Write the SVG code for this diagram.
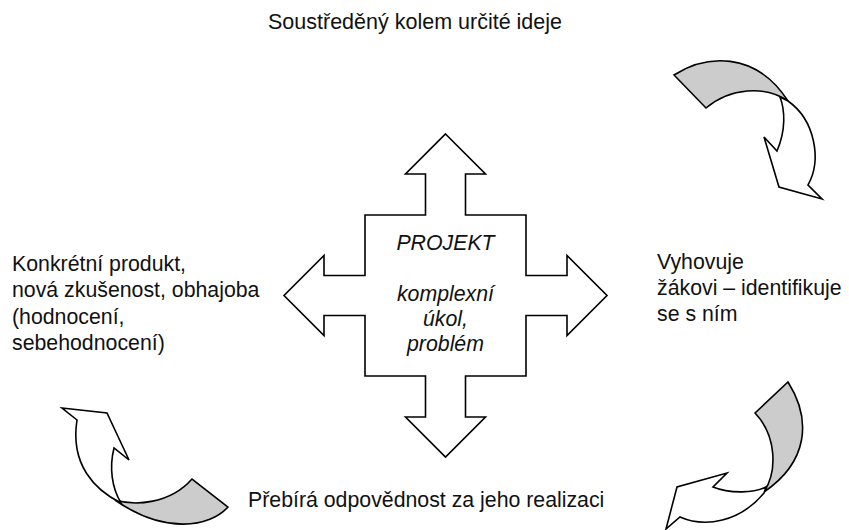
<svg xmlns="http://www.w3.org/2000/svg" width="849" height="530" viewBox="0 0 849 530">
<style>
text{font-family:"Liberation Sans",Arial,sans-serif;font-size:21.3px;fill:#111}
.c{text-anchor:middle;font-style:italic}
.sh{stroke:#000;stroke-width:1.6;stroke-linejoin:miter}
.g{fill:#cccccc}
.w{fill:#fff}
</style>
<rect width="849" height="530" fill="#fff"/>
<g id="project">
<polygon class="sh w" points="445.5,134 485.5,174 465.5,174 465.5,215 526,215 526,275.5 567,275.5 567,255.5 607,295.5 567,335.5 567,315.5 526,315.5 526,376 465.5,376 465.5,417 485.5,417 445.5,457 405.5,417 425.5,417 425.5,376 365,376 365,315.5 324,315.5 324,335.5 284,295.5 324,255.5 324,275.5 365,275.5 365,215 425.5,215 425.5,174 405.5,174"/>
<text class="c" x="445.5" y="250">PROJEKT</text>
<text class="c" x="445.5" y="301">komplexní</text>
<text class="c" x="445.5" y="326">úkol,</text>
<text class="c" x="445.5" y="351">problém</text>
</g>
<g id="top-label"><text x="268" y="29" style="font-size:21.5px">Soustředěný kolem určité ideje</text></g>
<g id="right-label">
<text x="657" y="269">Vyhovuje</text>
<text x="657" y="295">žákovi – identifikuje</text>
<text x="657" y="321">se s ním</text>
</g>
<g id="bottom-label"><text x="248" y="507">Přebírá odpovědnost za jeho realizaci</text></g>
<g id="left-label">
<text x="12" y="270.5">Konkrétní produkt,</text>
<text x="12" y="297">nová zkušenost, obhajoba</text>
<text x="12" y="323.5">(hodnocení,</text>
<text x="12" y="350">sebehodnocení)</text>
</g>
<g id="connectors">
<g id="arrow-top-right">
<path class="sh g" d="M674,75 C705,55 755,50 788,101 C765,85 730,88 706,108 Z"/>
<path class="sh w" d="M788,101 C815,120 822,160 808,185 L822,199 L779,187 L764,137 L777,151 C786,130 785,110 780,97 Z"/>
</g>
<g id="arrow-bottom-right">
<path class="sh g" d="M755,413 L788,382 C812,420 808,462 764,492 C778,470 776,435 755,413 Z"/>
<path class="sh w" d="M766,487 C755,493 730,494 713,487 L727,473 L677,487 L666,529 L680,517 C705,528 740,522 764,493 Z"/>
</g>
<g id="arrow-bottom-left">
<path class="sh g" d="M115,500 C135,506 170,504 192,479 L228,507 C210,527 165,535 115,500 Z"/>
<path class="sh w" d="M62,408 L107,413 L129,460 L114,448 C109,468 112,488 121,503 C95,490 70,465 77,420 Z"/>
</g>
</g>
</svg>
